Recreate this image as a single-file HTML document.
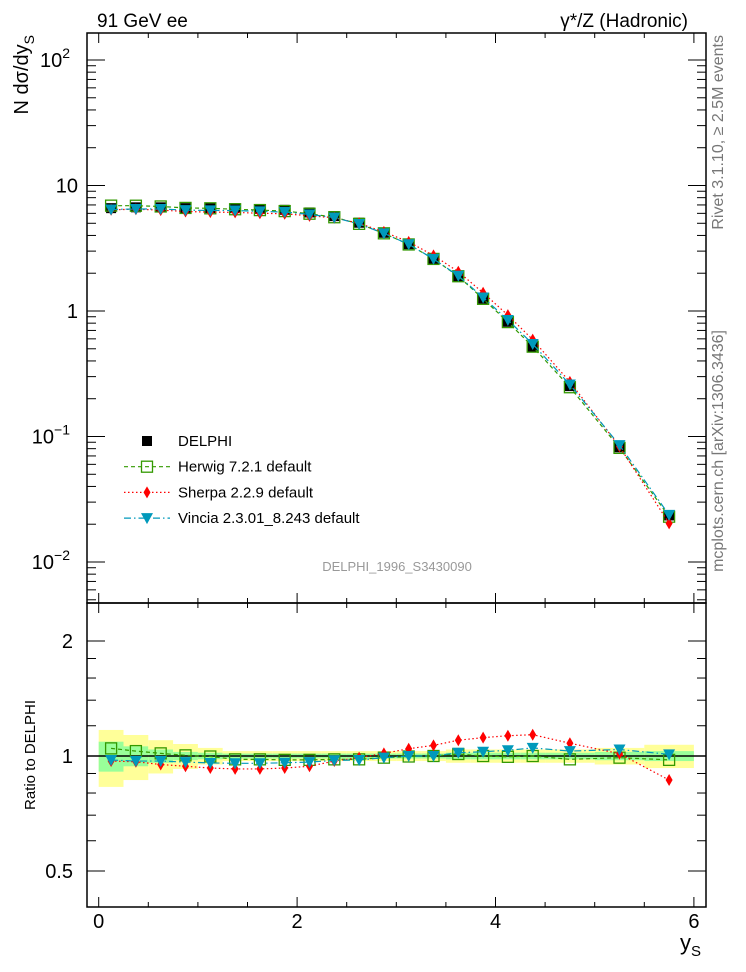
<!DOCTYPE html>
<html><head><meta charset="utf-8"><style>
body{margin:0;background:#fff;}
svg{display:block;font-family:"Liberation Sans",sans-serif;}
</style></head><body>
<svg id="c" width="746" height="972" viewBox="0 0 746 972">
<g id="bands"></g>
<g id="series"></g>
<g id="axes"></g>
<text x="97" y="27" font-size="19">91 GeV ee</text>
<text x="688" y="27" font-size="19" text-anchor="end">γ*/Z (Hadronic)</text>
<text x="397" y="571" font-size="13" fill="#999" text-anchor="middle">DELPHI_1996_S3430090</text>
<text transform="translate(723,35) rotate(-90)" font-size="16" fill="#777" text-anchor="end">Rivet 3.1.10, ≥ 2.5M events</text>
<text transform="translate(723,330) rotate(-90)" font-size="16" fill="#777" text-anchor="end">mcplots.cern.ch [arXiv:1306.3436]</text>
<text transform="translate(28,35) rotate(-90)" font-size="20" text-anchor="end">N dσ/dy<tspan font-size="14" dy="6">S</tspan></text>
<text transform="translate(35,755) rotate(-90)" font-size="15" text-anchor="middle">Ratio to DELPHI</text>
<text x="680" y="950" font-size="22">y<tspan font-size="15" dy="6">S</tspan></text>
<g id="legend"></g>
</svg>
<script>
const edges=[0,0.25,0.5,0.75,1,1.25,1.5,1.75,2,2.25,2.5,2.75,3,3.25,3.5,3.75,4,4.25,4.5,5,5.5,6];
const dataVals=[6.6,6.7,6.7,6.6,6.6,6.6,6.5,6.4,6.1,5.7,5.05,4.2,3.4,2.6,1.87,1.25,0.82,0.52,0.252,0.082,0.0235];
const herwigRatio=[1.047,1.03,1.016,1.004,0.997,0.98,0.98,0.977,0.977,0.98,0.98,0.99,0.997,1.0,1.012,1.0,0.995,1.0,0.98,0.99,0.977];
const sherpaRatio=[0.97,0.966,0.95,0.94,0.93,0.925,0.925,0.93,0.94,0.97,0.99,1.016,1.045,1.066,1.1,1.117,1.13,1.137,1.08,1.014,0.865];
const vinciaRatio=[0.976,0.97,0.97,0.964,0.959,0.957,0.957,0.96,0.964,0.974,0.976,0.99,1.0,1.0,1.02,1.026,1.035,1.05,1.03,1.04,1.01];
const totErr=[0.17,0.135,0.1,0.075,0.05,0.03,0.03,0.03,0.03,0.03,0.03,0.03,0.03,0.03,0.04,0.04,0.04,0.04,0.04,0.05,0.07];
const statErr=[0.09,0.06,0.04,0.025,0.02,0.015,0.015,0.015,0.015,0.015,0.015,0.015,0.015,0.015,0.02,0.02,0.02,0.02,0.02,0.025,0.03];
const xTicks=[0,2,4,6];
const NS="http://www.w3.org/2000/svg";
const L=87,R=706,T=33,MB=603,RB=907;
const X=v=>98.7+v*99.2;
const Y=v=>311-Math.log10(v)*125.5;
const YR=v=>756-Math.log10(v)*382;
function el(tag,attrs,parent){const e=document.createElementNS(NS,tag);for(const k in attrs)e.setAttribute(k,attrs[k]);parent.appendChild(e);return e;}
const bands=document.getElementById('bands'),series=document.getElementById('series'),axes=document.getElementById('axes'),legend=document.getElementById('legend');
const centers=dataVals.map((_,i)=>(edges[i]+edges[i+1])/2);
dataVals.forEach((_,i)=>{
 const x0=X(edges[i]),x1=X(edges[i+1]);
 let r=el('rect',{x:x0,y:YR(1+totErr[i]),width:x1-x0,height:YR(1-totErr[i])-YR(1+totErr[i]),fill:'#ffff99'},bands);
 
 
 r=el('rect',{x:x0,y:YR(1+statErr[i]),width:x1-x0,height:YR(1-statErr[i])-YR(1+statErr[i]),fill:'#99ff99'},bands);
 
 
});
let ln=el('line',{x1:L,x2:R,y1:YR(1),y2:YR(1),stroke:'#000','stroke-width':1.5},bands);


function marker(type,x,y,color,g){
 let m;
 if(type==='sq')m=el('rect',{x:x-5,y:y-5,width:10,height:10,fill:'#000'},g);
 else if(type==='osq')m=el('rect',{x:x-5.5,y:y-5.5,width:11,height:11,fill:'none',stroke:color,'stroke-width':1.3},g);
 else if(type==='dia')m=el('polygon',{points:`${x},${y-6} ${x+3.5},${y} ${x},${y+6} ${x-3.5},${y}`,fill:color},g);
 else m=el('polygon',{points:`${x-6},${y-5} ${x+6},${y-5} ${x},${y+6}`,fill:color},g);
 return m;
}
const mcs=[{name:'herwig',ratio:herwigRatio,color:'#339900',dash:'4,3',m:'osq'},{name:'sherpa',ratio:sherpaRatio,color:'#ff0000',dash:'1.5,2.5',m:'dia'},{name:'vincia',ratio:vinciaRatio,color:'#0099bb',dash:'7,3,1.5,3',m:'tri'}];
dataVals.forEach((v,i)=>{const m=marker('sq',X(centers[i]),Y(v),'#000',series);
 
 });
mcs.forEach(s=>{
 const pm=centers.map((c,i)=>`${X(c)},${Y(dataVals[i]*s.ratio[i])}`).join(' ');
 const pr=centers.map((c,i)=>`${X(c)},${YR(s.ratio[i])}`).join(' ');
 let p=el('polyline',{points:pm,fill:'none',stroke:s.color,'stroke-width':1.2,'stroke-dasharray':s.dash},series);
 
 
 p=el('polyline',{points:pr,fill:'none',stroke:s.color,'stroke-width':1.2,'stroke-dasharray':s.dash},series);
 
 
 centers.forEach((c,i)=>{
  let m=marker(s.m,X(c),Y(dataVals[i]*s.ratio[i]),s.color,series);
  
  
  m=marker(s.m,X(c),YR(s.ratio[i]),s.color,series);
  
  
 });
});
[[T,MB],[MB,RB]].forEach(([a,b],k)=>{const f=el('rect',{x:L,y:a,width:R-L,height:b-a,fill:'none',stroke:'#000','stroke-width':1.5},axes);
 
 });
for(let v=0;v<=6.01;v+=0.5){const major=Math.abs(v-Math.round(v/2)*2)<1e-6;const len=major?10:5;
 [MB,RB].forEach(b=>{el('line',{x1:X(v),x2:X(v),y1:b,y2:b-len,stroke:'#000'},axes);el('line',{x1:X(v),x2:X(v),y1:b===MB?T:MB,y2:(b===MB?T:MB)+len,stroke:'#000'},axes);});}
xTicks.forEach(v=>{const t=el('text',{x:X(v),y:928,'font-size':20,'text-anchor':'middle'},axes);t.textContent=v;
 
 });
for(let d=-3;d<=2;d++){for(let k=1;k<10;k++){const v=k*Math.pow(10,d);const y=Y(v);if(y<T||y>MB)continue;const len=k===1?18:9;
 el('line',{x1:L,x2:L+len,y1:y,y2:y,stroke:'#000'},axes);el('line',{x1:R,x2:R-len,y1:y,y2:y,stroke:'#000'},axes);}}
const ylab=[[2,'10','2'],[1,'10',''],[0,'1',''],[-1,'10','−1'],[-2,'10','−2']];
ylab.forEach(([d,b,e])=>{const t=el('text',{x:e?70:78,y:Y(Math.pow(10,d))+7,'font-size':20,'text-anchor':'end'},axes);
 t.textContent=b;if(e){const s=el('tspan',{'font-size':14,dy:-9},t);s.textContent=e;}
 
 });
[0.5,0.6,0.7,0.8,0.9,1,1.2,1.4,1.6,1.8,2].forEach(v=>{const y=YR(v);const len=(v===0.5||v===1||v===2)?18:9;
 el('line',{x1:L,x2:L+len,y1:y,y2:y,stroke:'#000'},axes);el('line',{x1:R,x2:R-len,y1:y,y2:y,stroke:'#000'},axes);});
[[2,'2'],[1,'1'],[0.5,'0.5']].forEach(([v,s])=>{const t=el('text',{x:73,y:YR(v)+7,'font-size':20,'text-anchor':'end'},axes);t.textContent=s;
 
 });
const leg=[['DELPHI',null],['Herwig 7.2.1 default',mcs[0]],['Sherpa 2.2.9 default',mcs[1]],['Vincia 2.3.01_8.243 default',mcs[2]]];
leg.forEach(([name,s],i)=>{const y=441+i*25.7;
 if(s){const l=el('line',{x1:124,x2:170,y1:y,y2:y,stroke:s.color,'stroke-width':1.2,'stroke-dasharray':s.dash},legend);
  
  
  marker(s.m,147,y,s.color,legend);}
 else marker('sq',147,y,'#000',legend);
 const t=el('text',{x:178,y:y+5,'font-size':15},legend);t.textContent=name;
 
 });
</script>
</body></html>
